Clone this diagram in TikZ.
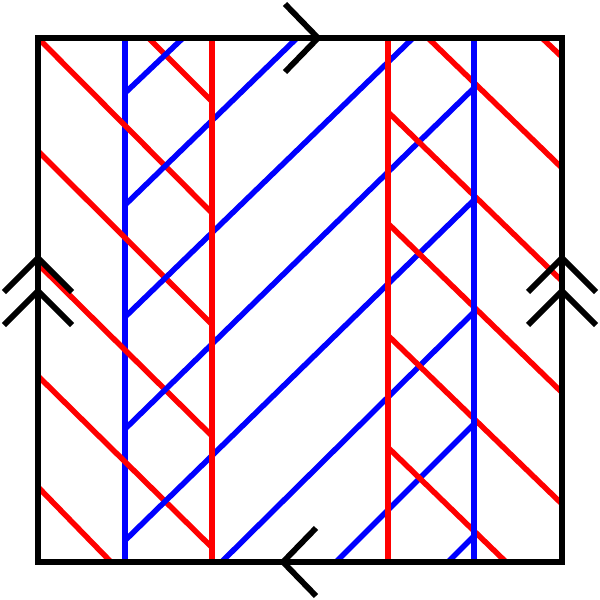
\documentclass[tikz,border=0pt]{standalone}
\begin{document}
\begin{tikzpicture}[x=1pt,y=-1pt,
  bl/.style={draw={rgb,255:red,0;green,0;blue,255}, line width=5.5pt},
  rd/.style={draw={rgb,255:red,255;green,0;blue,0}, line width=5.5pt},
  frame/.style={draw=black, line width=6.5pt},
  chev/.style={draw=black, line width=5.8pt, line join=miter}]
\useasboundingbox (0,0) rectangle (600,600);
\begin{scope}
\clip (38,38) rectangle (562,562);
% left blue vertical
\draw[bl] (125,38) -- (125,562);
% red lines, left strip
\draw[rd] (148.5,38) -- (212,101.5);
\draw[rd] (38,38) -- (212,213);
\draw[rd] (38,151) -- (212,324.5);
\draw[rd] (38,264) -- (212,436);
\draw[rd] (38,376) -- (212,547.5);
\draw[rd] (38,487) -- (111,562);
% blue diagonals
\draw[bl] (125,93) -- (183,38);
\draw[bl] (125,205) -- (297,38);
\draw[bl] (125,317) -- (413,38);
\draw[bl] (125,429) -- (474,88);
\draw[bl] (125,540.5) -- (474,200);
\draw[bl] (221.5,562) -- (474,312);
\draw[bl] (336,562) -- (474,424);
\draw[bl] (448,562) -- (474,536);
% red verticals
\draw[rd] (212,38) -- (212,562);
\draw[rd] (388,38) -- (388,562);
% red lines, right strip
\draw[rd] (542,38) -- (562,57);
\draw[rd] (428,38) -- (562,168);
\draw[rd] (388,112) -- (562,281);
\draw[rd] (388,223.5) -- (562,392.5);
\draw[rd] (388,335.5) -- (562,504);
\draw[rd] (388,447.5) -- (506,562);
% right blue vertical
\draw[bl] (474,38) -- (474,562);
\end{scope}
% frame
\draw[frame] (38,38) rectangle (562,562);
% edge arrows
\draw[chev] (285,4) -- (318,38) -- (285,72);
\draw[chev] (316,528) -- (283,562) -- (316,596);
\draw[chev] (4,292) -- (38,258) -- (72,292);
\draw[chev] (4,325) -- (38,291) -- (72,325);
\draw[chev] (528,292) -- (562,258) -- (596,292);
\draw[chev] (528,325) -- (562,291) -- (596,325);
\end{tikzpicture}
\end{document}
